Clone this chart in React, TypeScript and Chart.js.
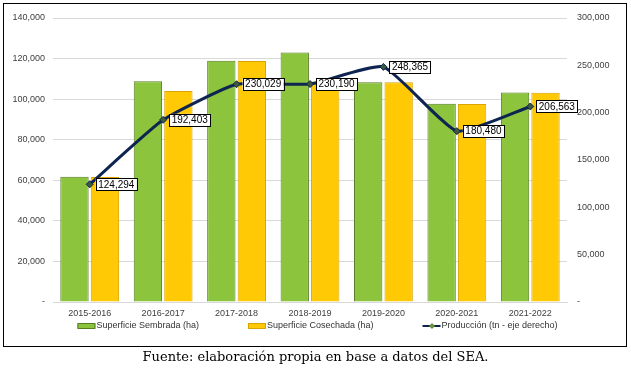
import React, { useEffect, useRef } from 'react';
import { Chart, registerables } from 'chart.js';

Chart.register(...registerables);

const categories = ['2015-2016', '2016-2017', '2017-2018', '2018-2019', '2019-2020', '2020-2021', '2021-2022'];
const sembrada = [61700, 108800, 118900, 123000, 108300, 97700, 103300];
const cosechada = [61600, 104000, 118800, 108700, 108300, 97600, 103100];
const produccion = [124294, 192403, 230029, 230190, 248365, 180480, 206563];

const seriesNames = ['Superficie Sembrada (ha)', 'Superficie Cosechada (ha)', 'Producción (tn - eje derecho)'];
const caption = 'Fuente: elaboración propia en base a datos del SEA.';

const GREEN = '#8cc43e';
const GREEN_BORDER = '#567d22';
const YELLOW = '#ffc905';
const YELLOW_BORDER = '#d9a300';
const NAVY = '#0e2451';
const FONT = '"Liberation Sans", Arial, sans-serif';

const fmt = (v: number) => (v === 0 ? '-' : Math.round(v).toLocaleString('en-US'));

const labelPlugin = {
  id: 'pointLabels',
  afterDatasetsDraw(chart: any) {
    const meta = chart.getDatasetMeta(2);
    const ctx = chart.ctx;
    ctx.save();
    ctx.font = `10px ${FONT}`;
    ctx.textBaseline = 'middle';
    ctx.textAlign = 'left';
    meta.data.forEach((pt: any, i: number) => {
      const text = fmt(produccion[i]);
      const w = ctx.measureText(text).width + 5;
      const h = 12;
      const x = pt.x + 6;
      const y = pt.y - h / 2;
      ctx.fillStyle = '#ffffff';
      ctx.fillRect(x, y, w, h);
      ctx.strokeStyle = '#000000';
      ctx.lineWidth = 1;
      ctx.strokeRect(Math.round(x) + 0.5, Math.round(y) + 0.5, Math.round(w), h);
      ctx.fillStyle = '#000000';
      ctx.fillText(text, x + 2.5, pt.y + 0.5);
    });
    ctx.restore();
  },
};

const legendPlugin = {
  id: 'customLegend',
  afterDraw(chart: any) {
    const ctx = chart.ctx;
    ctx.save();
    ctx.font = `9px ${FONT}`;
    ctx.textBaseline = 'middle';
    ctx.textAlign = 'left';
    const sw = 19;
    const gap = 49;
    const widths = seriesNames.map((n) => sw + ctx.measureText(n).width);
    const total = widths.reduce((a, b) => a + b, 0) + gap * (widths.length - 1);
    let x = (chart.width - total) / 2 + 2;
    const y = 326;
    seriesNames.forEach((n, i) => {
      if (i === 0 || i === 1) {
        ctx.fillStyle = i === 0 ? GREEN : YELLOW;
        ctx.fillRect(x, y - 2.5, sw - 1, 5);
        ctx.strokeStyle = i === 0 ? GREEN_BORDER : YELLOW_BORDER;
        ctx.lineWidth = 1;
        ctx.strokeRect(x + 0.5, y - 2.5, sw - 2, 5);
      } else {
        ctx.strokeStyle = NAVY;
        ctx.lineWidth = 2;
        ctx.beginPath();
        ctx.moveTo(x, y);
        ctx.lineTo(x + sw - 1, y);
        ctx.stroke();
        ctx.fillStyle = '#6a8f3a';
        ctx.beginPath();
        ctx.moveTo(x + sw / 2, y - 3);
        ctx.lineTo(x + sw / 2 + 3, y);
        ctx.lineTo(x + sw / 2, y + 3);
        ctx.lineTo(x + sw / 2 - 3, y);
        ctx.closePath();
        ctx.fill();
      }
      ctx.fillStyle = '#333333';
      ctx.fillText(n, x + sw, y);
      x += widths[i] + gap;
    });
    ctx.restore();
  },
};

export default function App() {
  const ref = useRef<HTMLCanvasElement>(null);

  useEffect(() => {
    document.body.style.margin = '0';
    const canvas = ref.current;
    if (!canvas) return;
    const chart = new Chart(canvas, {
      type: 'bar',
      data: {
        labels: categories,
        datasets: [
          {
            type: 'bar',
            label: seriesNames[0],
            data: sembrada,
            backgroundColor: GREEN,
            borderColor: GREEN_BORDER,
            borderWidth: 1,
            yAxisID: 'y',
            order: 2,
            categoryPercentage: 0.83,
            barPercentage: 0.93,
          },
          {
            type: 'bar',
            label: seriesNames[1],
            data: cosechada,
            backgroundColor: YELLOW,
            borderColor: YELLOW_BORDER,
            borderWidth: 1,
            yAxisID: 'y',
            order: 2,
            categoryPercentage: 0.83,
            barPercentage: 0.93,
          },
          {
            type: 'line',
            label: seriesNames[2],
            data: produccion,
            borderColor: NAVY,
            borderWidth: 3,
            tension: 0.15,
            pointStyle: 'rectRot',
            pointRadius: 3.5,
            pointBackgroundColor: '#3d5a3c',
            pointBorderColor: NAVY,
            pointBorderWidth: 1,
            yAxisID: 'y1',
            order: 1,
          } as any,
        ],
      },
      options: {
        animation: false,
        responsive: false,
        maintainAspectRatio: false,
        layout: { padding: { top: 18, left: 0, right: 0, bottom: 0 } },
        plugins: {
          legend: { display: false },
          tooltip: { enabled: false },
          title: { display: false },
        },
        scales: {
          x: {
            grid: { display: false, drawTicks: false },
            border: { display: true, color: '#d9d9d9' },
            ticks: { font: { family: FONT, size: 9 }, color: '#404040', padding: 6 },
            afterFit: (s: any) => {
              s.height = 73;
            },
          },
          y: {
            position: 'left',
            min: 0,
            max: 140000,
            ticks: {
              stepSize: 20000,
              font: { family: FONT, size: 9 },
              color: '#404040',
              padding: 8,
              callback: (v: any) => fmt(Number(v)),
            },
            grid: { color: '#d9d9d9', drawTicks: false },
            border: { display: false },
            afterFit: (s: any) => {
              s.width = 53;
            },
          },
          y1: {
            position: 'right',
            min: 0,
            max: 300000,
            ticks: {
              stepSize: 50000,
              font: { family: FONT, size: 9 },
              color: '#404040',
              padding: 10,
              callback: (v: any) => fmt(Number(v)),
            },
            grid: { display: false, drawTicks: false },
            border: { display: false },
            afterFit: (s: any) => {
              s.width = 64;
            },
          },
        },
      },
      plugins: [labelPlugin, legendPlugin],
    });
    return () => chart.destroy();
  }, []);

  return (
    <div style={{ position: 'relative', width: 631, height: 375, background: '#fff', overflow: 'hidden' }}>
      <canvas ref={ref} width={631} height={375} style={{ position: 'absolute', left: 0, top: 0 }} />
      <div
        style={{
          position: 'absolute',
          left: 3,
          top: 3,
          width: 622,
          height: 342,
          border: '1.5px solid #000',
          pointerEvents: 'none',
        }}
      />
      <div
        style={{
          position: 'absolute',
          left: 0,
          top: 348,
          width: 631,
          textAlign: 'center',
          fontFamily: '"DejaVu Serif", serif',
          fontSize: 13,
          color: '#000',
          lineHeight: '18px',
        }}
      >
        {caption}
      </div>
    </div>
  );
}
